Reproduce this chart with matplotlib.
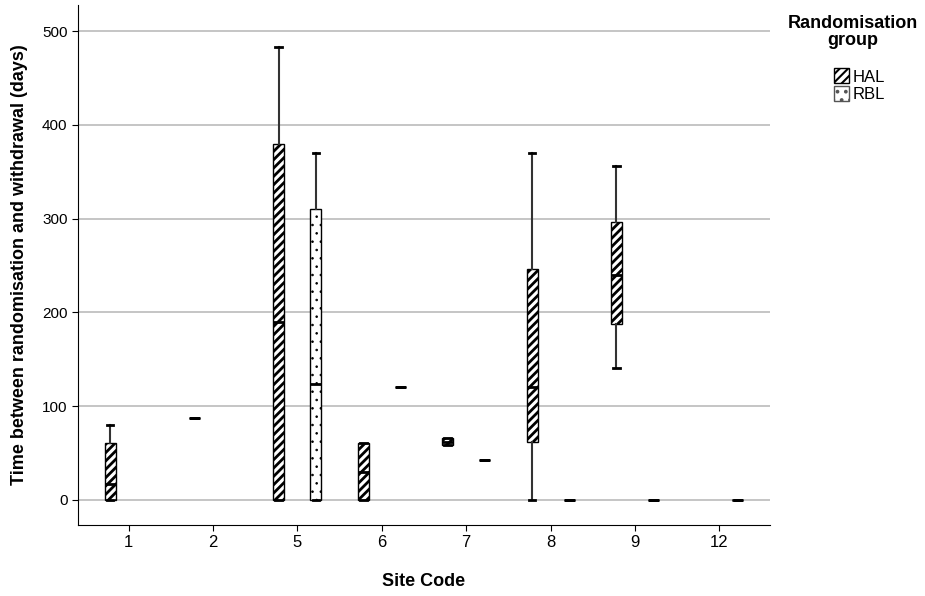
import matplotlib.pyplot as plt
from matplotlib.patches import Patch

plt.rcParams['font.family'] = ['Liberation Sans', 'DejaVu Sans']
plt.rcParams['hatch.linewidth'] = 2.0

sites = ["1", "2", "5", "6", "7", "8", "9", "12"]
# (q1, median, q3, whisker low, whisker high) per site, None = no cases
hal = [(0, 17, 60, 0, 80), (87, 87, 87, 87, 87), (0, 190, 380, 0, 483),
       (0, 30, 60, 0, 60), (58, 62, 66, 58, 66), (62, 120, 246, 0, 370),
       (188, 240, 296, 141, 356), None]
rbl = [None, None, (0, 124, 310, 0, 370), (120, 120, 120, 120, 120),
       (42, 42, 42, 42, 42), (0, 0, 0, 0, 0), (0, 0, 0, 0, 0), (0, 0, 0, 0, 0)]

fig = plt.figure(figsize=(9.25, 5.96), dpi=100)
ax = fig.add_axes([78/925, 71/596, 692/925, 520/596])

def draw(data, offset, hatch, hw):
    plt.rcParams['hatch.linewidth'] = hw
    stats, pos = [], []
    for i, d in enumerate(data):
        if d is None:
            continue
        q1, med, q3, lo, hi = d
        stats.append(dict(q1=q1, med=med, q3=q3, whislo=lo, whishi=hi, fliers=[]))
        pos.append(i + offset)
    b = ax.bxp(stats, positions=pos, widths=0.13, patch_artist=True, showfliers=False,
               boxprops=dict(facecolor='white', edgecolor='black', linewidth=1, hatch=hatch),
               medianprops=dict(color='black', linewidth=2),
               whiskerprops=dict(color='#333333', linewidth=1.5),
               capprops=dict(color='black', linewidth=2), manage_ticks=False)
    for c in b['caps']:
        x0, x1 = c.get_xdata()
        m = (x0 + x1) / 2
        c.set_xdata([m - 0.04, m + 0.04])
    return b

draw(hal, -0.22, '////', 2.0)
draw(rbl, 0.22, '..', 0.6)

ax.set_xlim(-0.6, 7.6)
ax.set_ylim(-27, 528)
ax.set_xticks(range(len(sites)))
ax.set_xticklabels(sites, fontsize=12)
ax.set_yticks([0, 100, 200, 300, 400, 500])
ax.tick_params(axis='y', labelsize=11, length=4)
ax.tick_params(axis='x', length=4)
ax.yaxis.grid(True, color='#bbbbbb', linewidth=1.2)
ax.set_axisbelow(True)
ax.spines['top'].set_visible(False)
ax.spines['right'].set_visible(False)
ax.set_xlabel("Site Code", fontsize=13, fontweight='bold', labelpad=16)
ax.set_ylabel("Time between randomisation and withdrawal (days)", fontsize=13,
              fontweight='bold', labelpad=10)

fig.text(853/925, 1 - 32/596, "Randomisation\ngroup", ha='center', va='center',
         fontsize=13, fontweight='bold', linespacing=0.95)
plt.rcParams['hatch.linewidth'] = 1.5
handles = [Patch(facecolor='white', edgecolor='black', hatch='////', label='HAL'),
           Patch(facecolor='white', edgecolor='#555555', hatch='..', label='RBL')]
fig.legend(handles=handles, loc='upper left', bbox_to_anchor=(826/925, 1 - 60/596),
           frameon=False, fontsize=12, handlelength=0.9, handleheight=1.0,
           handletextpad=0.2, labelspacing=0.1, borderpad=0)

fig.savefig("out.png", dpi=100)
